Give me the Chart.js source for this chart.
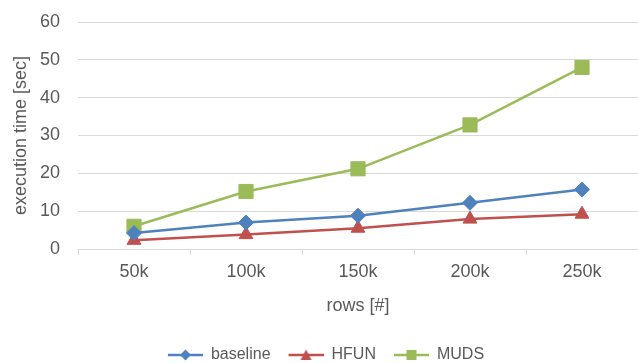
<!DOCTYPE html>
<html>
<head>
<meta charset="utf-8">
<script src="https://cdn.jsdelivr.net/npm/chart.js@4"></script>
<style>
  html, body { margin: 0; padding: 0; background: #fff; }
  #wrap { width: 638px; height: 363px; }
</style>
</head>
<body>
<div id="wrap"><canvas id="chart" width="638" height="363"></canvas></div>
<script>
const categories = ["50k", "100k", "150k", "200k", "250k"];
const baseline = [4.2, 7.0, 8.8, 12.2, 15.7];
const hfun = [2.3, 3.8, 5.5, 7.9, 9.2];
const muds = [6.0, 15.2, 21.2, 32.8, 48.0];
const yTicks = [0, 10, 20, 30, 40, 50, 60];

const FONT = "'Liberation Sans', Arial, sans-serif";
const TEXT = "#595959";
const GRID = "#d9d9d9";
const BLUE = "#4f81bd", RED = "#c0504d", GREEN = "#9bbb59";

// legend icon: short line with the marker in the middle (blank lead-in gives spacing)
function legendIcon(color, shape) {
  const c = document.createElement("canvas");
  c.width = 49; c.height = 14;
  const g = c.getContext("2d");
  const o = 14;
  g.strokeStyle = color; g.fillStyle = color; g.lineWidth = 2.5;
  g.beginPath(); g.moveTo(o, 7); g.lineTo(o + 35, 7); g.stroke();
  g.beginPath();
  if (shape === "diamond") {
    g.moveTo(o + 17.5, 1.5); g.lineTo(o + 23, 7); g.lineTo(o + 17.5, 12.5); g.lineTo(o + 12, 7);
  } else if (shape === "triangle") {
    g.moveTo(o + 17.5, 1.5); g.lineTo(o + 23, 12); g.lineTo(o + 12, 12);
  } else {
    g.rect(o + 12.5, 2, 10, 10);
  }
  g.closePath(); g.fill();
  return c;
}

const icons = [legendIcon(BLUE, "diamond"), legendIcon(RED, "triangle"), legendIcon(GREEN, "square")];

new Chart(document.getElementById("chart"), {
  type: "line",
  data: {
    labels: categories,
    datasets: [
      { label: "baseline", data: baseline, borderColor: BLUE, backgroundColor: BLUE,
        pointStyle: "rectRot", pointRadius: 7.5, pointBorderWidth: 1, borderWidth: 2.5 },
      { label: "HFUN", data: hfun, borderColor: RED, backgroundColor: RED,
        pointStyle: "triangle", pointRadius: 8, pointBorderWidth: 1, borderWidth: 2.5 },
      { label: "MUDS", data: muds, borderColor: GREEN, backgroundColor: GREEN,
        pointStyle: "rect", pointRadius: 10, pointBorderWidth: 1, borderWidth: 2.5 }
    ]
  },
  options: {
    responsive: false,
    animation: false,
    layout: { autoPadding: false, padding: { top: 22, right: 0, left: 0, bottom: -10 } },
    plugins: {
      tooltip: { enabled: false },
      legend: {
        position: "bottom",
        labels: {
          usePointStyle: true,
          pointStyleWidth: 49,
          generateLabels: (chart) => chart.data.datasets.map((d, i) => ({
            text: d.label, pointStyle: icons[i], fontColor: TEXT,
            strokeStyle: d.borderColor, fillStyle: d.backgroundColor, lineWidth: 0, datasetIndex: i
          })),
          color: TEXT,
          font: { family: FONT, size: 16 },
          padding: 4
        }
      }
    },
    scales: {
      x: {
        offset: true,
        afterFit: (scale) => { scale.height = 94; scale.paddingLeft = 0; scale.paddingRight = 0; },
        grid: { display: true, offset: true, drawOnChartArea: false, drawTicks: true, tickLength: 6, color: GRID },
        border: { display: true, color: GRID, width: 1 },
        ticks: { color: TEXT, font: { family: FONT, size: 18 }, padding: 6 },
        title: { display: true, text: "rows [#]", color: TEXT, font: { family: FONT, size: 18 }, padding: { top: 6, bottom: 26 } }
      },
      y: {
        min: 0, max: 60,
        afterBuildTicks: (scale) => { scale.ticks = yTicks.map(v => ({ value: v })); },
        afterFit: (scale) => { scale.width = 78; scale.paddingTop = 0; scale.paddingBottom = 0; },
        grid: { color: GRID, drawTicks: false },
        border: { display: false },
        ticks: { color: TEXT, font: { family: FONT, size: 18 }, padding: 18 },
        title: { display: true, text: "execution time [sec]", color: TEXT, font: { family: FONT, size: 18 }, padding: { top: 10, bottom: 4 } }
      }
    }
  }
});
</script>
</body>
</html>
